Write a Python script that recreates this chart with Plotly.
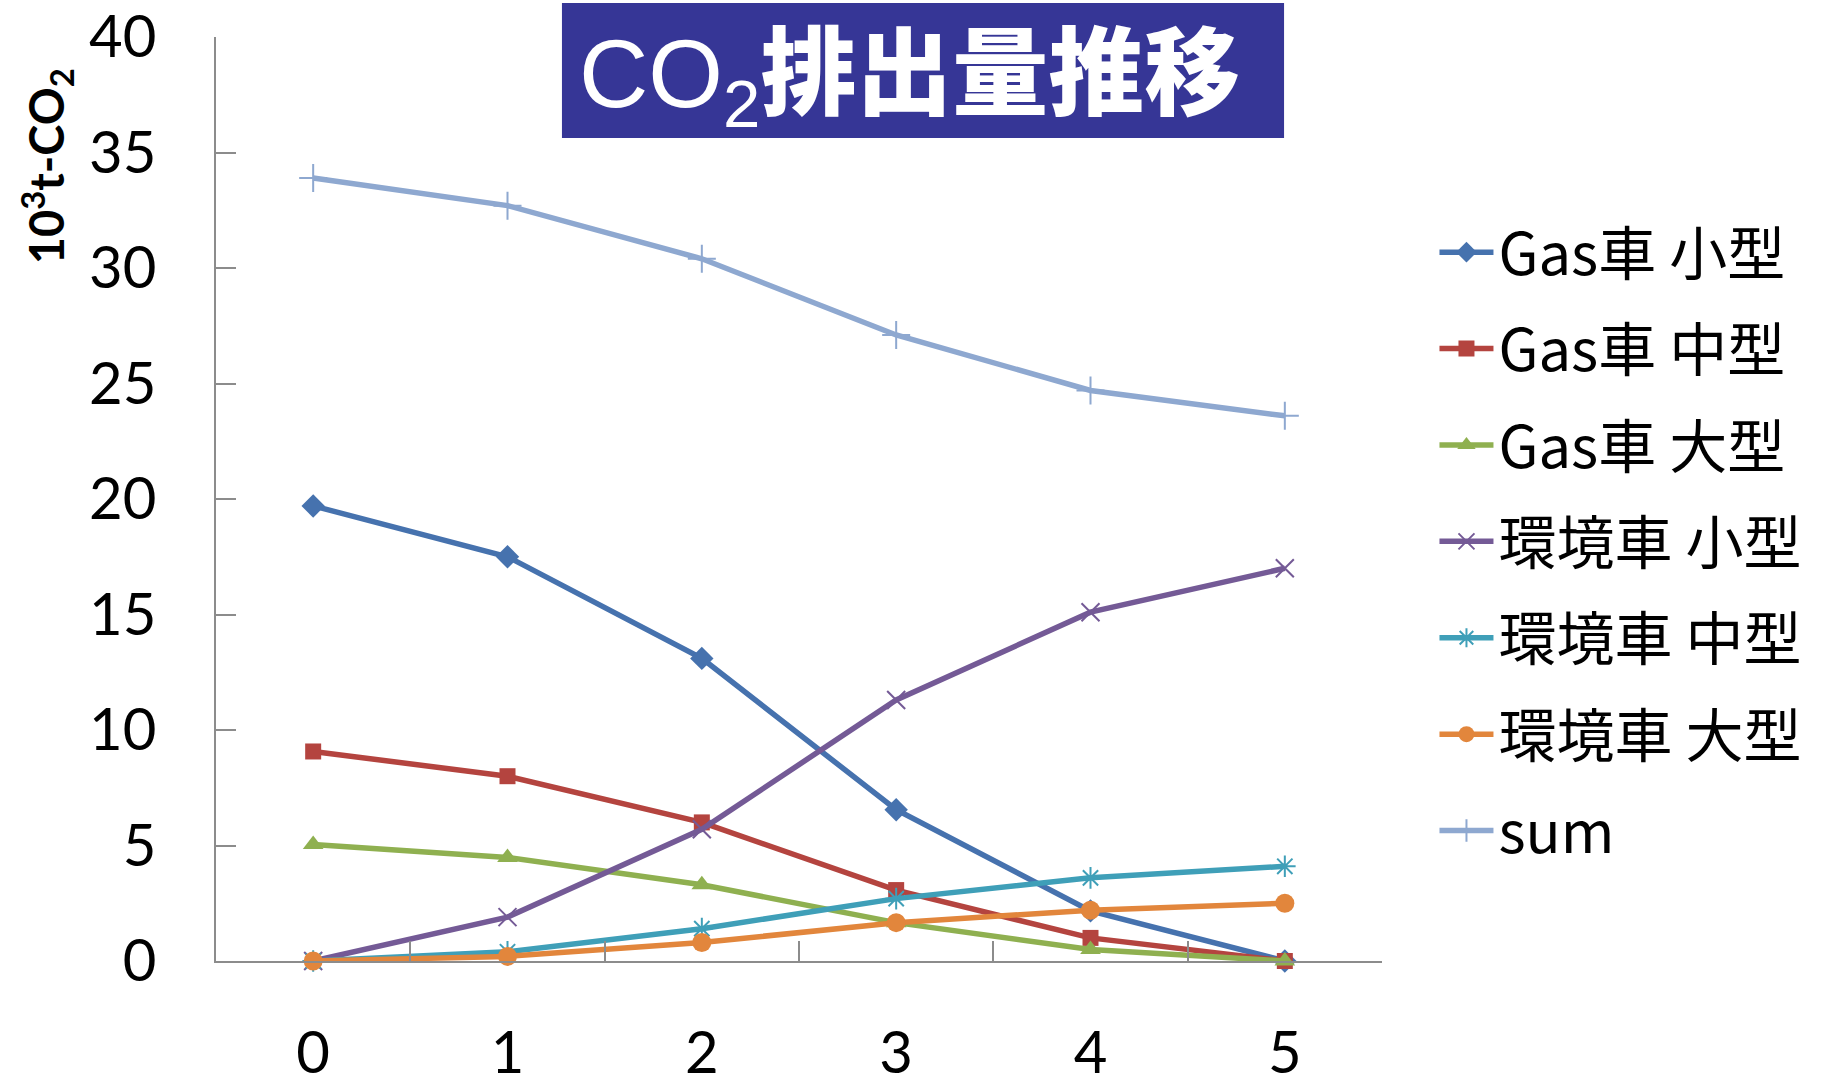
import plotly.graph_objects as go

# Years since start (category axis)
years = ["0", "1", "2", "3", "4", "5"]

# CO2 emissions per vehicle class, 10^3 t-CO2
gas_small = [19.7, 17.5, 13.1, 6.55, 2.17, 0.0]
gas_mid = [9.07, 8.0, 6.0, 3.07, 1.0, 0.0]
gas_large = [5.04, 4.48, 3.3, 1.66, 0.5, 0.0]
eco_small = [0.0, 1.9, 5.7, 11.3, 15.1, 17.0]
eco_mid = [0.0, 0.4, 1.4, 2.7, 3.6, 4.1]
eco_large = [0.0, 0.2, 0.8, 1.66, 2.2, 2.5]
total = [33.9, 32.7, 30.4, 27.1, 24.7, 23.6]

series_names = ["Gas車 小型", "Gas車 中型", "Gas車 大型",
                "環境車 小型", "環境車 中型", "環境車 大型", "sum"]
series_values = [gas_small, gas_mid, gas_large, eco_small, eco_mid, eco_large, total]

y_ticks = [0, 5, 10, 15, 20, 25, 30, 35, 40]

styles = [
    dict(color="#4672AE", symbol="diamond", size=18),
    dict(color="#B4443F", symbol="square", size=16),
    dict(color="#8FB050", symbol="triangle-up", size=18),
    dict(color="#745A96", symbol="x-thin-open", size=18),
    dict(color="#3F9FB8", symbol="asterisk-open", size=18),
    dict(color="#E2863C", symbol="circle", size=19),
    dict(color="#8EA8D0", symbol="cross-thin-open", size=20),
]

fig = go.Figure()
for i, (name, vals, st) in enumerate(zip(series_names, series_values, styles)):
    thin = st["symbol"].endswith("-open")
    fig.add_trace(go.Scatter(
        x=years, y=vals, name=name, mode="lines+markers",
        legendgroup=f"g{i}",
        line=dict(color=st["color"], width=5.5),
        marker=dict(symbol=st["symbol"], size=st["size"], color=st["color"],
                    line=dict(color=st["color"], width=2 if thin else 0)),
        cliponaxis=False,
    ))

tick_font = dict(family="Lato, Noto Sans CJK JP, sans-serif", size=58, color="#000000")

fig.update_layout(
    width=1824, height=1081,
    margin=dict(l=216, r=442, t=37, b=120),
    paper_bgcolor="white", plot_bgcolor="white",
    showlegend=True,
    legend=dict(
        x=1.045, xanchor="left", y=0.815, yanchor="top",
        font=dict(family="Noto Sans CJK JP, sans-serif", size=58, color="#000000"),
        tracegroupgap=18, itemwidth=54, bgcolor="rgba(0,0,0,0)",
    ),
    xaxis=dict(
        type="category", categoryorder="array", categoryarray=years,
        range=[-0.5, 5.5], tickson="boundaries", automargin=False,
        showline=True, linecolor="#8C8C8C", linewidth=2,
        ticks="inside", ticklen=20, tickwidth=2, tickcolor="#8C8C8C",
        showgrid=False, zeroline=False,
        tickfont=tick_font, ticklabelstandoff=40,
    ),
    yaxis=dict(
        range=[0, 40], tickvals=y_ticks, automargin=False,
        showline=True, linecolor="#8C8C8C", linewidth=2,
        ticks="inside", ticklen=20, tickwidth=2, tickcolor="#8C8C8C",
        showgrid=False, zeroline=False,
        tickfont=tick_font, ticklabelstandoff=46,
    ),
)

# Title banner
fig.add_shape(type="rect", xref="paper", yref="paper",
              x0=0.2967, x1=0.916, y0=0.8907, y1=1.0368,
              fillcolor="#363696", line=dict(width=0), layer="above")
fig.add_annotation(
    xref="paper", yref="paper", x=0.595, y=0.966, xanchor="center", yanchor="middle",
    showarrow=False,
    text=("<span style='font-family:Liberation Sans'>CO<sub>2</sub></span>"
          "<span style='font-family:Noto Sans CJK JP;font-weight:900'>排出量推移</span>"),
    font=dict(family="Liberation Sans, sans-serif", size=96, color="white"),
)

# Vertical axis unit label
fig.add_annotation(
    xref="paper", yref="paper", x=-0.145, y=0.86, xanchor="center", yanchor="middle",
    showarrow=False, textangle=-90,
    text="<b>10<sup>3</sup>t-CO<sub>2</sub></b>",
    font=dict(family="Lato, sans-serif", size=47, color="#000000"),
)

fig.write_html("out.html")
